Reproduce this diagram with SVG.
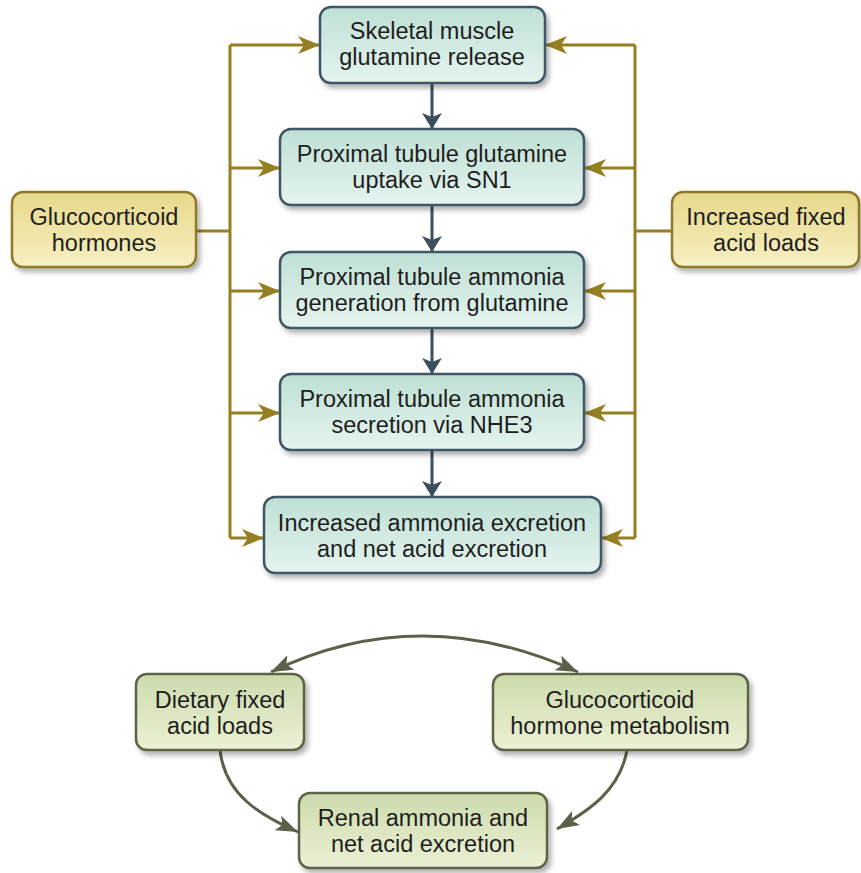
<svg xmlns="http://www.w3.org/2000/svg" width="861" height="873" viewBox="0 0 861 873">
<defs>
<linearGradient id="gT" x1="0" y1="0" x2="0" y2="1"><stop offset="0" stop-color="#bfe0d5"/><stop offset="1" stop-color="#e5f4ee"/></linearGradient>
<linearGradient id="gY" x1="0" y1="0" x2="0" y2="1"><stop offset="0" stop-color="#e7d889"/><stop offset="1" stop-color="#f7f0c3"/></linearGradient>
<linearGradient id="gG" x1="0" y1="0" x2="0" y2="1"><stop offset="0" stop-color="#cddbac"/><stop offset="1" stop-color="#ebf1d5"/></linearGradient>
<filter id="sh" x="-10%" y="-10%" width="130%" height="140%"><feDropShadow dx="3" dy="4" stdDeviation="2.5" flood-color="#000" flood-opacity="0.3"/></filter>
<marker id="aO" viewBox="0 0 22 18" refX="22" refY="9" markerWidth="22" markerHeight="18" markerUnits="userSpaceOnUse" orient="auto"><path d="M0,0 L22,9 L0,18 L6,9 Z" fill="#957f22"/></marker>
<marker id="aS" viewBox="0 0 16 20" refX="16" refY="10" markerWidth="16" markerHeight="20" markerUnits="userSpaceOnUse" orient="auto"><path d="M0,0 L16,10 L0,20 L4,10 Z" fill="#3d4f5e"/></marker>
<marker id="aG" viewBox="0 0 22 16" refX="22" refY="8" markerWidth="22" markerHeight="16" markerUnits="userSpaceOnUse" orient="auto"><path d="M0,0 L22,8 L0,16 L5,8 Z" fill="#5a6148"/></marker>
<marker id="aGs" viewBox="0 0 22 16" refX="0" refY="8" markerWidth="22" markerHeight="16" markerUnits="userSpaceOnUse" orient="auto"><path d="M22,0 L0,8 L22,16 L17,8 Z" fill="#5a6148"/></marker>
</defs>
<style>
.t{fill:url(#gT);stroke:#3f5566;stroke-width:2.5;filter:url(#sh)}
.y{fill:url(#gY);stroke:#8e7a2a;stroke-width:2.5;filter:url(#sh)}
.g{fill:url(#gG);stroke:#5b6347;stroke-width:2.5;filter:url(#sh)}
text{font-family:'Liberation Sans',Arial,Helvetica,sans-serif;font-size:23.5px;fill:#1e1e1e;text-anchor:middle}
.lo{fill:none;stroke:#957f22;stroke-width:3}
.ls{fill:none;stroke:#3d4f5e;stroke-width:3}
.lg{fill:none;stroke:#5a6148;stroke-width:3}
</style>
<g id="connectors">
<path class="lo" d="M196,231 H230 M230,45 V538"/>
<path class="lo" d="M230,45 H320" marker-end="url(#aO)"/>
<path class="lo" d="M230,168 H280" marker-end="url(#aO)"/>
<path class="lo" d="M230,291 H280" marker-end="url(#aO)"/>
<path class="lo" d="M230,413 H280" marker-end="url(#aO)"/>
<path class="lo" d="M230,538 H264" marker-end="url(#aO)"/>
<path class="lo" d="M672,231 H635 M635,45 V538"/>
<path class="lo" d="M635,45 H545" marker-end="url(#aO)"/>
<path class="lo" d="M635,168 H584" marker-end="url(#aO)"/>
<path class="lo" d="M635,291 H584" marker-end="url(#aO)"/>
<path class="lo" d="M635,413 H584" marker-end="url(#aO)"/>
<path class="lo" d="M635,538 H601" marker-end="url(#aO)"/>
<path class="ls" d="M432,83 V129" marker-end="url(#aS)"/>
<path class="ls" d="M432,205 V252" marker-end="url(#aS)"/>
<path class="ls" d="M432,328 V374" marker-end="url(#aS)"/>
<path class="ls" d="M432,450 V497" marker-end="url(#aS)"/>
<path class="lg" d="M271,672 Q420,600 578,672" marker-start="url(#aGs)" marker-end="url(#aG)"/>
<path class="lg" d="M220,750 C225,795 260,815 298,832" marker-end="url(#aG)"/>
<path class="lg" d="M627,750 C620,790 590,810 557,829" marker-end="url(#aG)"/>
</g>
<g id="n1"><rect class="t" x="320" y="7" width="225" height="76" rx="11"/><text x="432" y="39">Skeletal muscle</text><text x="432" y="65">glutamine release</text></g>
<g id="n2"><rect class="t" x="280" y="129" width="304" height="76" rx="11"/><text x="432" y="162">Proximal tubule glutamine</text><text x="432" y="188">uptake via SN1</text></g>
<g id="n3"><rect class="t" x="280" y="252" width="304" height="76" rx="11"/><text x="432" y="285">Proximal tubule ammonia</text><text x="432" y="311">generation from glutamine</text></g>
<g id="n4"><rect class="t" x="280" y="374" width="304" height="76" rx="11"/><text x="432" y="407">Proximal tubule ammonia</text><text x="432" y="433">secretion via NHE3</text></g>
<g id="n5"><rect class="t" x="264" y="497" width="337" height="76" rx="11"/><text x="432" y="531">Increased ammonia excretion</text><text x="432" y="557">and net acid excretion</text></g>
<g id="n6"><rect class="y" x="12" y="192" width="184" height="75" rx="11"/><text x="104" y="225">Glucocorticoid</text><text x="104" y="251">hormones</text></g>
<g id="n7"><rect class="y" x="672" y="192" width="187" height="75" rx="11"/><text x="766" y="225">Increased fixed</text><text x="766" y="251">acid loads</text></g>
<g id="n8"><rect class="g" x="136" y="674" width="168" height="76" rx="11"/><text x="220" y="708">Dietary fixed</text><text x="220" y="734">acid loads</text></g>
<g id="n9"><rect class="g" x="493" y="674" width="255" height="76" rx="11"/><text x="620" y="708">Glucocorticoid</text><text x="620" y="734">hormone metabolism</text></g>
<g id="n10"><rect class="g" x="299" y="793" width="248" height="75" rx="11"/><text x="423" y="826">Renal ammonia and</text><text x="423" y="852">net acid excretion</text></g>
</svg>
